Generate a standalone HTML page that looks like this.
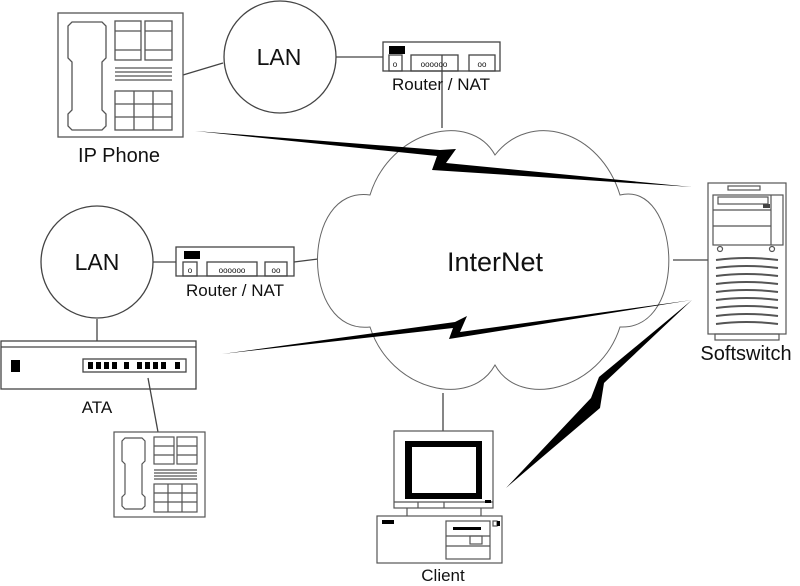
<!DOCTYPE html>
<html><head><meta charset="utf-8"><style>
html,body{margin:0;padding:0;background:#fff;}
svg{display:block;}
text{font-family:"Liberation Sans",Arial,sans-serif;fill:#111;}
</style></head><body>
<svg width="800" height="586" viewBox="0 0 800 586" xmlns="http://www.w3.org/2000/svg">
<g fill="none" stroke="#444" stroke-width="1.3">
<line x1="183" y1="75" x2="223" y2="63"/>
<line x1="336" y1="57" x2="383" y2="57"/>
<line x1="442" y1="55" x2="442" y2="128"/>
<line x1="153" y1="262" x2="176" y2="262"/>
<line x1="294" y1="262" x2="318" y2="259"/>
<line x1="97" y1="319" x2="97" y2="341"/>
<line x1="148" y1="378" x2="158" y2="432"/>
<line x1="673" y1="260" x2="708" y2="260"/>
<line x1="443" y1="393" x2="443" y2="431"/>
</g>
<path d="M370,195 C390,130 470,110 495,155 C530,110 600,130 620,195 C680,180 690,330 620,327 C600,390 520,410 495,365 C470,410 390,390 370,327 C300,335 300,185 370,195 Z" fill="#fff" stroke="#666" stroke-width="1"/>
<text x="495" y="271" font-size="27" text-anchor="middle">InterNet</text>

<g fill="#000">
<polygon points="195,131 440,150 456,149 446,163 692,187 432,170 437,156"/>
<polygon points="222,354 455,322 467,316 460,332 692,300 449,339 453,328"/>
<polygon points="692,300 604,383 600,408 506,488 591,398 599,377"/>
</g>

<g fill="none" stroke="#555" stroke-width="1.3">
<rect x="58" y="13" width="125" height="124"/>
<path d="M72,22 h30 l4,4 v32 l-4,4 v48 l4,4 v12 l-4,4 h-30 l-4,-4 v-12 l4,-4 v-48 l-4,-4 v-32 z"/>
<rect x="115" y="21" width="26" height="39"/><rect x="145" y="21" width="27" height="39"/>
<line x1="115" y1="31" x2="141" y2="31"/><line x1="115" y1="50" x2="141" y2="50"/>
<line x1="145" y1="31" x2="172" y2="31"/><line x1="145" y1="50" x2="172" y2="50"/>
<line x1="115" y1="68" x2="172" y2="68"/><line x1="115" y1="72" x2="172" y2="72"/>
<line x1="115" y1="76" x2="172" y2="76"/><line x1="115" y1="80" x2="172" y2="80"/>
<rect x="115" y="91" width="57" height="39"/>
<line x1="134" y1="91" x2="134" y2="130"/><line x1="153" y1="91" x2="153" y2="130"/>
<line x1="115" y1="104" x2="172" y2="104"/><line x1="115" y1="117" x2="172" y2="117"/>
</g>
<text x="119" y="162" font-size="20" text-anchor="middle">IP Phone</text>

<circle cx="280" cy="57" r="56" fill="none" stroke="#444" stroke-width="1.3"/>
<text x="279" y="65" font-size="23" text-anchor="middle">LAN</text>

<g fill="none" stroke="#444" stroke-width="1.3">
<rect x="383" y="42" width="117" height="29"/>
<rect x="389" y="55" width="13" height="16"/><rect x="411" y="55" width="47" height="16"/><rect x="469" y="55" width="26" height="16"/>
</g>
<rect x="389" y="46" width="16" height="8" fill="#000"/>
<text x="395" y="67" font-size="8" text-anchor="middle">o</text>
<text x="434" y="67" font-size="8" text-anchor="middle">oooooo</text>
<text x="482" y="67" font-size="8" text-anchor="middle">oo</text>
<text x="441" y="90" font-size="17" text-anchor="middle">Router / NAT</text>

<circle cx="97" cy="262" r="56" fill="none" stroke="#444" stroke-width="1.3"/>
<text x="97" y="270" font-size="23" text-anchor="middle">LAN</text>

<g fill="none" stroke="#444" stroke-width="1.3">
<rect x="176" y="247" width="118" height="29"/>
<rect x="183" y="262" width="14" height="14"/><rect x="207" y="262" width="50" height="14"/><rect x="265" y="262" width="22" height="14"/>
</g>
<rect x="184" y="251" width="16" height="8" fill="#000"/>
<text x="190" y="273" font-size="8" text-anchor="middle">o</text>
<text x="232" y="273" font-size="8" text-anchor="middle">oooooo</text>
<text x="276" y="273" font-size="8" text-anchor="middle">oo</text>
<text x="235" y="296" font-size="17" text-anchor="middle">Router / NAT</text>

<g fill="none" stroke="#444" stroke-width="1.3">
<rect x="1" y="341" width="195" height="48"/>
<line x1="1" y1="347" x2="196" y2="347"/>
<rect x="83" y="359" width="103" height="13"/>
</g>
<rect x="11" y="360" width="9" height="12" fill="#000"/>
<g fill="#000">
<rect x="88" y="362" width="5" height="7"/><rect x="96" y="362" width="5" height="7"/><rect x="104" y="362" width="5" height="7"/><rect x="112" y="362" width="5" height="7"/>
<rect x="124" y="362" width="5" height="7"/><rect x="137" y="362" width="5" height="7"/><rect x="145" y="362" width="5" height="7"/><rect x="153" y="362" width="5" height="7"/><rect x="161" y="362" width="5" height="7"/><rect x="175" y="362" width="5" height="7"/>
</g>
<text x="97" y="413" font-size="17" text-anchor="middle">ATA</text>

<g fill="none" stroke="#555" stroke-width="1.2">
<rect x="114" y="432" width="91" height="85"/>
<path d="M125,438 h17 l3,3 v20 l-3,3 v30 l3,3 v9 l-3,3 h-17 l-3,-3 v-9 l3,-3 v-30 l-3,-3 v-20 l3,-3 z"/>
<rect x="154" y="437" width="20" height="27"/><rect x="177" y="437" width="20" height="27"/>
<line x1="154" y1="446" x2="174" y2="446"/><line x1="154" y1="455" x2="174" y2="455"/>
<line x1="177" y1="446" x2="197" y2="446"/><line x1="177" y1="455" x2="197" y2="455"/>
<line x1="154" y1="470" x2="197" y2="470"/><line x1="154" y1="473" x2="197" y2="473"/><line x1="154" y1="476" x2="197" y2="476"/><line x1="154" y1="479" x2="197" y2="479"/>
<rect x="154" y="484" width="43" height="28"/>
<line x1="168" y1="484" x2="168" y2="512"/><line x1="182" y1="484" x2="182" y2="512"/>
<line x1="154" y1="493" x2="197" y2="493"/><line x1="154" y1="502" x2="197" y2="502"/>
</g>

<g fill="none" stroke="#555" stroke-width="1.2">
<rect x="708" y="183" width="78" height="151"/>
<rect x="715" y="334" width="64" height="6"/>
<rect x="713" y="195" width="70" height="50"/>
<line x1="771" y1="195" x2="771" y2="245"/>
<rect x="718" y="197" width="50" height="7"/>
<line x1="713" y1="210" x2="771" y2="210"/><line x1="713" y1="226" x2="771" y2="226"/>
<rect x="728" y="186" width="32" height="4"/>
<circle cx="720" cy="249" r="2.5"/><circle cx="772" cy="249" r="2.5"/>
<path d="M716,260 q30,-4 62,0 M716,268 q30,-4 62,0 M716,276 q30,-4 62,0 M716,284 q30,-4 62,0 M716,292 q30,-4 62,0 M716,300 q30,-4 62,0 M716,308 q30,-4 62,0 M716,316 q30,-4 62,0 M716,324 q30,-4 62,0" stroke-width="2"/>
</g>
<rect x="763" y="204" width="7" height="4" fill="#444"/>
<text x="746" y="360" font-size="20" text-anchor="middle">Softswitch</text>

<g fill="none" stroke="#555" stroke-width="1.2">
<rect x="394" y="431" width="99" height="77"/>
<line x1="394" y1="502" x2="493" y2="502"/>
<line x1="418" y1="502" x2="418" y2="508"/><line x1="444" y1="502" x2="444" y2="508"/>
<line x1="407" y1="508" x2="407" y2="516"/><line x1="481" y1="508" x2="481" y2="516"/>
<rect x="377" y="516" width="125" height="47"/>
<rect x="446" y="521" width="44" height="38"/>
<line x1="446" y1="536" x2="490" y2="536"/><line x1="446" y1="546" x2="490" y2="546"/>
<rect x="470" y="536" width="12" height="8"/>
<rect x="493" y="521" width="4" height="5"/>
</g>
<rect x="405" y="441" width="77" height="6" fill="#000"/>
<rect x="405" y="441" width="7" height="58" fill="#000"/>
<rect x="405" y="493" width="77" height="6" fill="#000"/>
<rect x="476" y="441" width="6" height="58" fill="#000"/>
<rect x="485" y="500" width="6" height="3" fill="#000"/>
<rect x="382" y="520" width="12" height="4" fill="#000"/>
<rect x="453" y="527" width="28" height="3" fill="#000"/>
<rect x="497" y="521" width="3" height="5" fill="#000"/>
<text x="443" y="581" font-size="17" text-anchor="middle">Client</text>
</svg>
</body></html>
